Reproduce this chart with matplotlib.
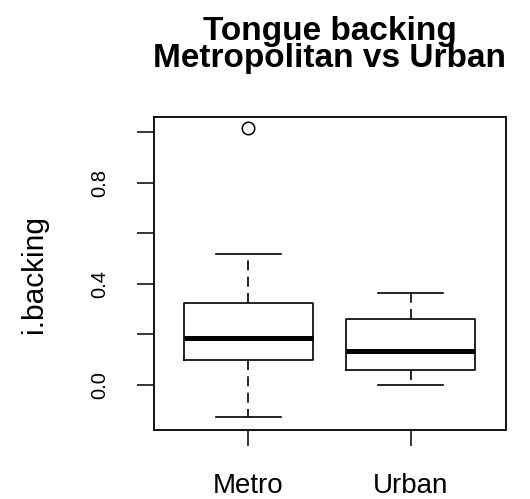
import matplotlib
matplotlib.use("Agg")
import matplotlib.pyplot as plt

# Five-number summaries of i.backing by area type
groups = ["Metro", "Urban"]
whisker_low = [-0.125, 0.001]
q1 = [0.099, 0.059]
medians = [0.185, 0.136]
q3 = [0.325, 0.260]
whisker_high = [0.517, 0.362]
outliers = [[1.014], []]

y_ticks = [0.0, 0.2, 0.4, 0.6, 0.8, 1.0]
y_tick_labels = ["0.0", "", "0.4", "", "0.8", ""]

title_lines = ["Tongue backing", "Metropolitan vs Urban"]
y_label = "i.backing"

plt.rcParams["font.family"] = ["Liberation Sans", "DejaVu Sans"]

W, H = 530, 499
fig = plt.figure(figsize=(W / 100, H / 100), dpi=100)
ax = fig.add_axes([153.5 / W, (H - 429.5) / H, 352 / W, 312.5 / H])

stats = []
for i, name in enumerate(groups):
    stats.append(dict(label=name, whislo=whisker_low[i], q1=q1[i],
                      med=medians[i], q3=q3[i], whishi=whisker_high[i],
                      fliers=outliers[i]))

positions = list(range(1, len(groups) + 1))
ax.bxp(stats, positions=positions, widths=0.8, capwidths=0.4,
       boxprops=dict(color="black", linewidth=1.2),
       medianprops=dict(color="black", linewidth=3.6, solid_capstyle="butt"),
       whiskerprops=dict(color="black", linewidth=1.2, linestyle=(0, (6, 3.8))),
       capprops=dict(color="black", linewidth=1.2),
       flierprops=dict(marker="o", markersize=9, markerfacecolor="none",
                       markeredgecolor="black", markeredgewidth=1.1),
       manage_ticks=False)

ax.set_xlim(0.415, 2.585)
ax.set_ylim(-0.176, 1.059)

ax.set_xticks(positions)
ax.set_xticklabels(groups, fontsize=20)
ax.set_yticks(y_ticks)
ax.set_yticklabels(y_tick_labels, fontsize=14.5, rotation=90, va="center")

ax.tick_params(axis="y", length=12.2, width=1.1, pad=20)
ax.tick_params(axis="x", length=11.5, width=1.1, pad=20)
for s in ax.spines.values():
    s.set_linewidth(1.3)

fig.text(34 / W, 1 - 274 / H, y_label, rotation=90, ha="center", va="center",
         fontsize=21.5)

# two-line bold title centred over the plotting region
# (baseline alignment applies to the last line of a multi-line text)
cx = (153.5 + 505.5) / 2 / W
fig.text(cx, 1 - 67.5 / H, "\n".join(title_lines), ha="center", va="baseline",
         multialignment="center", fontsize=24, fontweight="bold",
         linespacing=0.84)

fig.savefig("out.png", dpi=100)
